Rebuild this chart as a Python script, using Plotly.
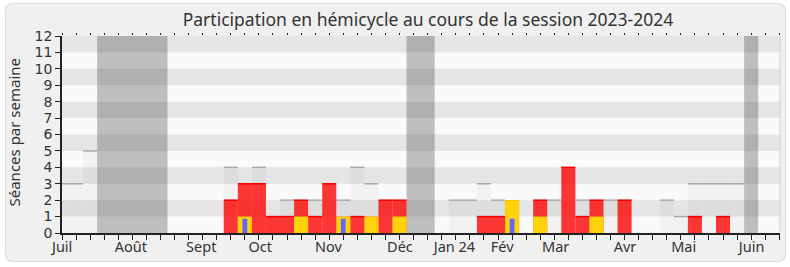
import plotly.graph_objects as go

# ---------------- data ----------------
weeks = list(range(52))
total_sessions = [3, 3, 5, 0, 0, 0, 0, 0, 0, 0, 0, 0,
                  4, 3, 4, 1, 2, 2, 2, 3, 2, 4, 3, 2, 2, 0, 0, 0,
                  2, 2, 3, 2, 2, 0, 2, 2, 4, 2, 2, 2, 2, 0, 0,
                  2, 1, 3, 3, 3, 3, 0, 0, 0]
presence = [0] * 52
for w, v in {12: 2, 13: 3, 14: 3, 15: 1, 16: 1, 17: 2, 18: 1, 19: 3, 20: 1, 21: 1,
             22: 1, 23: 2, 24: 2, 30: 1, 31: 1, 32: 2, 34: 2, 36: 4, 37: 1, 38: 2,
             40: 2, 45: 1, 47: 1}.items():
    presence[w] = v
questions = [0] * 52
for w, v in {13: 1, 17: 1, 20: 1, 22: 1, 24: 1, 32: 2, 34: 1, 38: 1}.items():
    questions[w] = v
interventions = [0] * 52
for w, v in {13: 0.87, 20: 0.87, 32: 0.87}.items():
    interventions[w] = v

vacations = [(3, 7), (25, 26), (49, 49)]          # first week, last week
month_labels = ["Juil", "Août", "Sept", "Oct", "Nov", "Déc", "Jan 24", "Fév",
                "Mar", "Avr", "Mai", "Juin"]
month_pos = [0.01, 4.9, 9.9, 14.1, 18.95, 24.03, 27.9, 31.3, 35.1, 40.03, 44.2, 49.03]
y_ticks = list(range(13))

X_MAX = 51.05
Y_MAX = 12
FONT = "Noto Sans"
TXT = "#333333"

fig = go.Figure()

fig.add_trace(go.Bar(x=weeks, y=total_sessions, width=1,
                     marker=dict(color="rgba(0,0,0,0.03)", line=dict(width=0)),
                     hoverinfo="skip", showlegend=False))
fig.add_trace(go.Bar(x=weeks, y=presence, width=1,
                     marker=dict(color="rgba(255,0,0,0.78)", line=dict(width=0)),
                     hoverinfo="skip", showlegend=False))
fig.add_trace(go.Bar(x=weeks, y=questions, width=1,
                     marker=dict(color="rgb(255,210,10)", line=dict(width=0)),
                     hoverinfo="skip", showlegend=False))
fig.add_trace(go.Bar(x=weeks, y=interventions, width=0.34,
                     marker=dict(color="rgb(102,102,255)", line=dict(width=0)),
                     hoverinfo="skip", showlegend=False))

gx, gy, rx, ry = [], [], [], []
for i in weeks:
    t, p, q = total_sessions[i], presence[i], questions[i]
    if t > 0 and t > max(p, q):
        gx += [i - 0.5, i + 0.5, None]
        gy += [t, t, None]
    if p > 0 and p > q:
        rx += [i - 0.5, i + 0.5, None]
        ry += [p, p, None]
fig.add_trace(go.Scatter(x=gx, y=gy, mode="lines", line=dict(color="#AAAAAA", width=1.5),
                         hoverinfo="skip", showlegend=False))
fig.add_trace(go.Scatter(x=rx, y=ry, mode="lines", line=dict(color="rgb(245,0,0)", width=1.5),
                         hoverinfo="skip", showlegend=False))
fig.add_trace(go.Scatter(x=[0], y=[0], xaxis="x2", mode="markers",
                         marker=dict(opacity=0), hoverinfo="skip", showlegend=False))

shapes = []
L, R, T, B = 62, 780, 36, 233
pw, ph = R - L, B - T
def px(v): return (v - L) / pw
def py(v): return (B - v) / ph
x0, x1, y0, y1, r = 5.5, 785.5, 3.5, 261.5, 8
path = (f"M {px(x0 + r)} {py(y0)} L {px(x1 - r)} {py(y0)} Q {px(x1)} {py(y0)} {px(x1)} {py(y0 + r)} "
        f"L {px(x1)} {py(y1 - r)} Q {px(x1)} {py(y1)} {px(x1 - r)} {py(y1)} "
        f"L {px(x0 + r)} {py(y1)} Q {px(x0)} {py(y1)} {px(x0)} {py(y1 - r)} "
        f"L {px(x0)} {py(y0 + r)} Q {px(x0)} {py(y0)} {px(x0 + r)} {py(y0)} Z")
shapes.append(dict(type="path", xref="paper", yref="paper", path=path, layer="below",
                   fillcolor="#F0F0F0", line=dict(color="#DCDCDC", width=1.2)))
shapes.append(dict(type="rect", xref="x", yref="y", x0=0, x1=X_MAX, y0=0, y1=Y_MAX,
                   layer="below", fillcolor="#FAFAFA", line=dict(width=0)))
for k in range(1, Y_MAX, 2):
    shapes.append(dict(type="rect", xref="x", yref="y", x0=0, x1=X_MAX, y0=k, y1=k + 1,
                       layer="below", fillcolor="#E5E5E5", line=dict(width=0)))
for a, b in vacations:
    shapes.append(dict(type="rect", xref="x", yref="y", x0=a - 0.5, x1=b + 0.5, y0=0, y1=Y_MAX,
                       layer="below", fillcolor="rgba(70,70,70,0.33)", line=dict(width=0)))
shapes.append(dict(type="line", xref="paper", yref="paper", x0=1, x1=1, y0=0, y1=1,
                   line=dict(color="#D0D0D0", width=1)))

fig.update_layout(
    width=790, height=267,
    margin=dict(l=L, r=790 - R, t=T, b=267 - B),
    paper_bgcolor="white", plot_bgcolor="#FAFAFA",
    barmode="overlay", showlegend=False,
    font=dict(family=FONT, color=TXT, size=14),
    title=dict(text="Participation en hémicycle au cours de la session 2023-2024",
               x=428 / 790, xanchor="center", y=1 - 20 / 267, yanchor="middle",
               font=dict(family=FONT, size=17.5, color=TXT)),
    xaxis=dict(range=[0, X_MAX], tickmode="array", tickvals=month_pos, ticktext=month_labels,
               ticks="", ticklen=5, showgrid=False, zeroline=False,
               showline=True, linecolor="#222222", linewidth=1.5,
               tickfont=dict(size=14.5, color=TXT),
               minor=dict(tickmode="linear", tick0=0, dtick=1, ticks="outside", ticklen=5,
                          tickcolor="#222222", tickwidth=1, showgrid=False)),
    xaxis2=dict(overlaying="x", side="top", anchor="y", matches="x", range=[0, X_MAX],
                tickmode="linear", tick0=0, dtick=1, ticks="outside", ticklen=2,
                tickcolor="#222222", showticklabels=False, showline=False,
                showgrid=False, zeroline=False),
    yaxis=dict(range=[0, Y_MAX], tickmode="array", tickvals=y_ticks, ticks="outside",
               ticklen=5, tickcolor="#222222", showgrid=False, zeroline=False,
               showline=True, linecolor="#222222", linewidth=1.5,
               tickfont=dict(family="DejaVu Sans", size=14, color=TXT)),
    shapes=shapes,
    annotations=[dict(text="Séances par semaine", xref="paper", yref="paper",
                      x=px(13), y=py(132.5), xanchor="center", yanchor="middle",
                      textangle=-90, showarrow=False,
                      font=dict(family=FONT, size=15, color=TXT))],
)

fig.write_html("out.html")
